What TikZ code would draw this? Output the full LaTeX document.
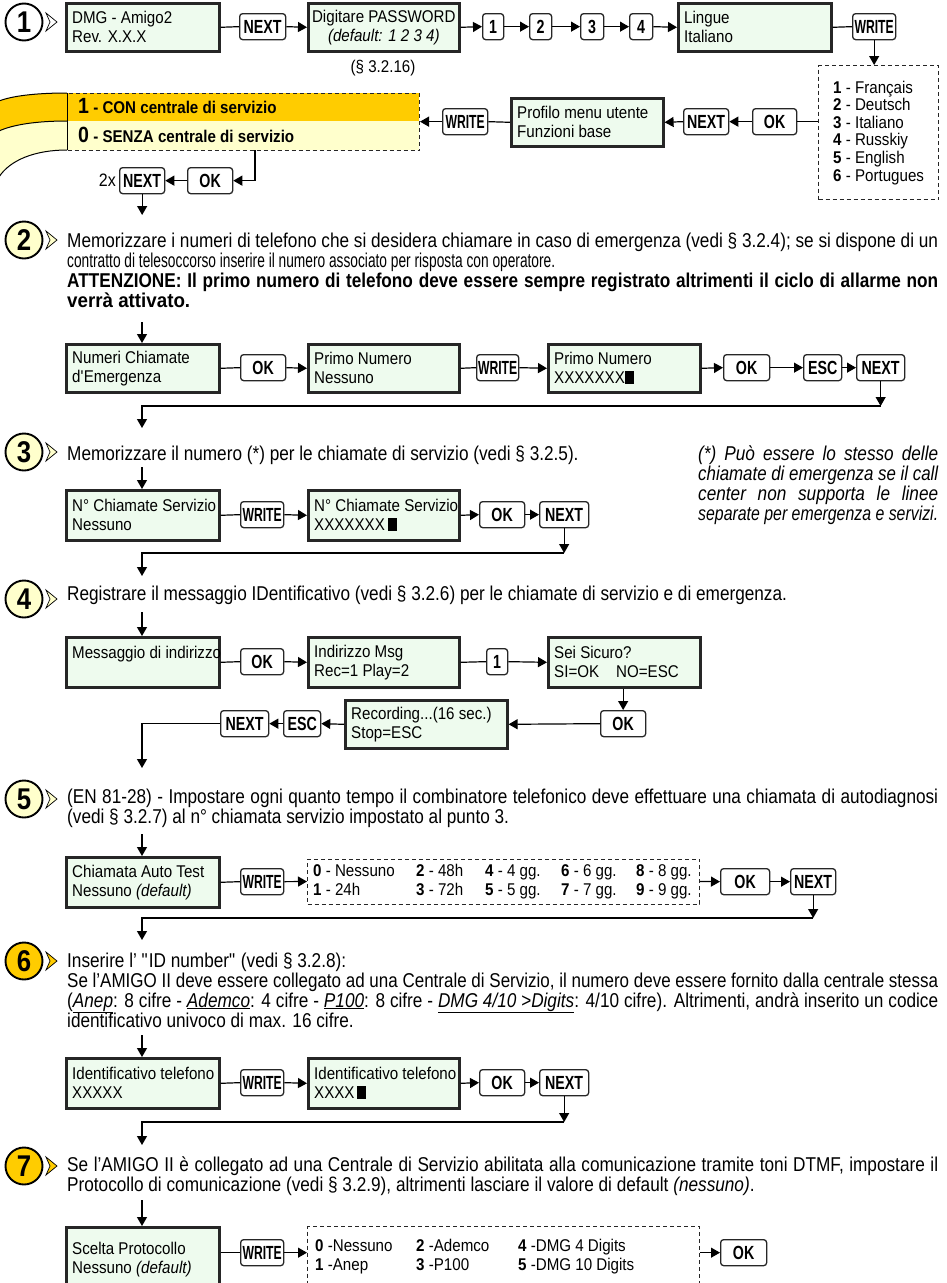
\documentclass[tikz,border=0pt]{standalone}
\usepackage{fontspec}
\usepackage{graphicx}
\setmainfont{Liberation Sans}[FakeStretch=0.86]
\newfontfamily\bxf{Liberation Sans}[FakeStretch=0.89]
\newfontfamily\kyf{Liberation Sans}[FakeStretch=0.75]
\newfontfamily\wrf{Liberation Sans}[FakeStretch=0.64]
\usetikzlibrary{arrows.meta}
\definecolor{gfill}{HTML}{EEFBEE}
\definecolor{orng}{HTML}{FFCC00}
\definecolor{pale}{HTML}{FFFFCC}
\newsavebox\jbox
\newcommand\jl[2]{\sbox\jbox{#2}\ifdim\wd\jbox>#1\relax\resizebox{#1}{\height}{\usebox\jbox}\else\makebox[#1][s]{#2}\fi}
\newcommand\cur{\,\rule[-1pt]{9pt}{13pt}}
\tikzset{
  gbox/.style={draw=black!85, line width=2.6pt, fill=gfill, anchor=north west, inner sep=0pt},
  gtxt/.style={anchor=west, align=left, inner sep=0pt, font=\bxf\fontsize{17}{19}\selectfont},
  key/.style={draw=black!85, line width=1.3pt, rounded corners=3pt, fill=white, anchor=north west, inner sep=0pt, font=\kyf\bfseries\fontsize{19}{19}\selectfont},
  wr/.style={font=\wrf\bfseries\fontsize{19}{19}\selectfont},
  dbox/.style={draw=black!85, line width=1pt, dash pattern=on 4pt off 3pt, anchor=north west, inner sep=0pt},
  ln/.style={line width=1.2pt},
  arr/.style={line width=1.2pt, -{Triangle[length=9pt,width=10pt]}},
  txt/.style={anchor=base west, inner sep=0pt, font=\fontsize{20}{20}\selectfont},
  btxt/.style={anchor=base west, inner sep=0pt, font=\fontsize{20}{20}\selectfont\bfseries},
  itxt/.style={anchor=base west, inner sep=0pt, font=\fontsize{20}{20}\selectfont\itshape},
  badge/.style={circle, draw, line width=1.9pt, minimum size=37pt, inner sep=0pt, font=\bfseries\fontsize{30}{30}\selectfont},
  chev/.style={line width=0.7pt, draw=black},
  lst/.style={anchor=base west, inner sep=0pt, font=\bxf\fontsize{17}{17}\selectfont},
}
\newcommand\gb[6]{\node[gbox, minimum width=#4pt, minimum height=#5pt] (#1) at (#2,#3) {};
  \node[gtxt] (#1t) at ([xshift=7pt]#1.west) {#6};}
\newcommand\kb[7][]{\node[key,#1,minimum width=#5pt,minimum height=#6pt] (#2) at (#3,#4) {#7};}
\newcommand\chv[2]{\filldraw[chev, fill=#2] (46,#1-9) -- (57,#1) -- (46,#1+9) -- (50,#1) -- cycle;}
\begin{document}
\begin{tikzpicture}[x=1pt,y=-1pt]
\useasboundingbox (0,0) rectangle (946,1283);
\clip (0,0) rectangle (946,1283);
\fill[white] (0,0) rectangle (946,1283);

% ---------- step 1 ----------
\node[badge, fill=white] (c1) at (24,22) {1};
\chv{22}{white}
\gb{dmg}{65}{2}{153}{48}{DMG - Amigo2\\Rev. X.X.X}
\kb{nx1}{239}{13}{46}{26}{NEXT}
\node[gbox, minimum width=151pt, minimum height=48pt] (pwd) at (307,2) {};
\node[gtxt, anchor=center, align=center] (pwdt) at (pwd.center) {Digitare PASSWORD\\\textit{(default: 1 2 3 4)}};
\node[inner sep=0pt, font=\bxf\fontsize{17}{17}\selectfont] (sec) at (383,68) {(§ 3.2.16)};
\kb{k1}{482}{13}{21}{26}{1}
\kb{k2}{529}{13}{22}{26}{2}
\kb{k3}{580}{13}{23}{26}{3}
\kb{k4}{629}{13}{23}{26}{4}
\gb{ling}{677}{2}{153}{48}{Lingue\\Italiano}
\kb[wr]{wr1}{852}{13}{43}{26}{WRITE}
\node[dbox, minimum width=120pt, minimum height=134pt] (lang) at (818,65) {};
\foreach \nn/\ll [count=\k] in {1/Français,2/Deutsch,3/Italiano,4/Russkiy,5/English,6/Portugues}
  {\node[lst] (lg\k) at (833,{93+17.6*(\k-1)}) {\textbf{\nn} - \ll};}
\kb{ok1}{752}{108}{44}{26}{OK}
\kb{nx2}{683}{108}{45}{26}{NEXT}
\gb{prof}{510}{97}{152}{48}{Profilo menu utente\\Funzioni base}
\kb[wr]{wr2}{442}{108}{45}{26}{WRITE}

% yellow selector
\fill[orng] (67,93) .. controls (35,93) and (12,96) .. (-1,101) -- (-1,131) .. controls (12,125) and (35,121) .. (67,121) -- cycle;
\fill[pale] (67,121) .. controls (35,121) and (12,125) .. (-1,131) -- (-1,177) .. controls (10,160) and (35,150) .. (67,150) -- cycle;
\fill[orng] (67,93) rectangle (419,121);
\fill[pale] (67,121) rectangle (419,150);
\draw[line width=1pt] (67,93) .. controls (35,93) and (12,96) .. (-1,101);
\draw[line width=1pt] (67,121) .. controls (35,121) and (12,125) .. (-1,131);
\draw[line width=1pt] (67,150) .. controls (35,150) and (10,160) .. (-1,177);
\node[dbox, minimum width=352pt, minimum height=57pt] (yel) at (67,93) {};
\draw[line width=1pt] (67,93) -- (67,150);
\node[anchor=base west, inner sep=0pt, font=\bxf\bfseries\fontsize{17}{17}\selectfont] (ycon) at (78,113) {{\fontsize{22}{22}\selectfont 1} - CON centrale di servizio};
\node[anchor=base west, inner sep=0pt, font=\bxf\bfseries\fontsize{17}{17}\selectfont] (ysen) at (78,142) {{\fontsize{22}{22}\selectfont 0} - SENZA centrale di servizio};
\kb{ok2}{187}{167}{45}{26}{OK}
\kb{nx3}{119}{167}{45}{26}{NEXT}
\node[inner sep=0pt, anchor=east, font=\bxf\fontsize{18}{18}\selectfont] (twox) at (116,180) {2x};

\draw[ln] (dmg.east) -- (nx1.west);
\draw[arr] (nx1.east) -- (pwd.west);
\draw[arr] (pwd.east) -- (k1.west);
\draw[arr] (k1.east) -- (k2.west);
\draw[arr] (k2.east) -- (k3.west);
\draw[arr] (k3.east) -- (k4.west);
\draw[arr] (k4.east) -- (ling.west);
\draw[ln] (ling.east) -- (wr1.west);
\draw[arr] (wr1.south) -- (wr1.south |- lang.north);
\draw[ln] (lang.west |- ok1.east) -- (ok1.east);
\draw[arr] (ok1.west) -- (nx2.east);
\draw[arr] (nx2.west) -- (prof.east);
\draw[ln] (prof.west) -- (wr2.east);
\draw[arr] (wr2.west) -- (wr2.west -| yel.east);
\coordinate (yd) at (255,150);
\draw[arr] (yd) |- (ok2.east);
\draw[arr] (ok2.west) -- (nx3.east);
\coordinate (e1) at (142,215);
\draw[arr] (nx3.south) -- (nx3.south |- e1);

% ---------- step 2 ----------
\node[badge, fill=pale] (c2) at (24,240) {2};
\chv{240}{pale}
\node[txt] (t2a) at (67,247) {\jl{871pt}{Memorizzare i numeri di telefono che si desidera chiamare in caso di emergenza (vedi § 3.2.4); se si dispone di un}};
\node[txt] (t2b) at (67,267) {\resizebox{488pt}{\height}{contratto di telesoccorso inserire il numero associato per risposta con operatore.}};
\node[btxt] (t2c) at (67,287) {\jl{871pt}{ATTENZIONE: Il primo numero di telefono deve essere sempre registrato altrimenti il ciclo di allarme non}};
\node[btxt] (t2d) at (67,307) {\resizebox{123pt}{\height}{verrà attivato.}};
\coordinate (b2) at (142,322);

\gb{nce}{65}{343}{153}{48}{Numeri Chiamate\\d\textquotesingle Emergenza}
\kb{ok3}{240}{354}{45}{26}{OK}
\gb{pn1}{307}{343}{151}{48}{Primo Numero\\Nessuno}
\kb[wr]{wr3}{476}{354}{42}{26}{WRITE}
\gb{pn2}{547}{343}{152}{48}{Primo Numero\\XXXXXXX\rule[-1pt]{9pt}{13pt}}
\kb{ok4}{723}{354}{46}{26}{OK}
\kb{es1}{803}{354}{38}{26}{ESC}
\kb{nx4}{856}{354}{48}{26}{NEXT}
\draw[arr] (b2) -- (b2 |- nce.north);
\draw[ln] (nce.east) -- (ok3.west);
\draw[arr] (ok3.east) -- (pn1.west);
\draw[ln] (pn1.east) -- (wr3.west);
\draw[arr] (wr3.east) -- (pn2.west);
\draw[arr] (pn2.east) -- (ok4.west);
\draw[arr] (ok4.east) -- (es1.west);
\draw[arr] (es1.east) -- (nx4.west);
\coordinate (j2) at (880,406);
\coordinate (e2) at (142,428);
\draw[arr] (nx4.south) -- (nx4.south |- j2);
\draw[arr] (nx4.south |- j2) -- (e2 |- j2) -- (e2);

% ---------- step 3 ----------
\node[badge, fill=pale] (c3) at (24,452) {3};
\chv{452}{pale}
\node[txt] (t3) at (67,460) {Memorizzare il numero (*) per le chiamate di servizio (vedi § 3.2.5).};
\node[itxt] (n3a) at (698,460) {\jl{240pt}{(*) Può essere lo stesso delle}};
\node[itxt] (n3b) at (698,480) {\jl{240pt}{chiamate di emergenza se il call}};
\node[itxt] (n3c) at (698,500) {\jl{240pt}{center non supporta le linee}};
\node[itxt] (n3d) at (698,520) {\jl{240pt}{separate per emergenza e servizi.}};
\coordinate (b3) at (142,467);

\gb{nc1}{65}{489}{153}{50}{N° Chiamate Servizio\\Nessuno}
\kb[wr]{wr4}{240}{501}{43}{26}{WRITE}
\gb{nc2}{307}{489}{151}{50}{N° Chiamate Servizio\\XXXXXXX\cur}
\kb{ok5}{479}{501}{45}{26}{OK}
\kb{nx5}{539}{501}{49}{26}{NEXT}
\draw[arr] (b3) -- (b3 |- nc1.north);
\draw[ln] (nc1.east) -- (wr4.west);
\draw[arr] (wr4.east) -- (nc2.west);
\draw[arr] (nc2.east) -- (ok5.west);
\draw[arr] (ok5.east) -- (nx5.west);
\coordinate (j3) at (563,553);
\coordinate (e3) at (142,576);
\draw[arr] (nx5.south) -- (nx5.south |- j3);
\draw[arr] (nx5.south |- j3) -- (e3 |- j3) -- (e3);

% ---------- step 4 ----------
\node[badge, fill=pale] (c4) at (24,599) {4};
\chv{599}{pale}
\node[txt] (t4) at (67,600) {Registrare il messaggio IDentificativo (vedi § 3.2.6) per le chiamate di servizio e di emergenza.};
\coordinate (b4) at (142,612);

\gb{msg}{65}{636}{153}{50}{Messaggio di indirizzo\\\mbox{}}
\kb{ok6}{240}{648}{43}{26}{OK}
\gb{ind}{307}{636}{151}{50}{Indirizzo Msg\\Rec=1 Play=2}
\kb{k1b}{486}{648}{21}{26}{1}
\gb{sei}{547}{636}{152}{50}{Sei Sicuro?\\SI=OK\quad NO=ESC}
\kb{ok7}{600}{710}{45}{26}{OK}
\gb{rec}{344}{699}{162}{48}{Recording...(16 sec.)\\Stop=ESC}
\kb{es2}{283}{710}{37}{26}{ESC}
\kb{nx6}{220}{710}{48}{26}{NEXT}
\draw[arr] (b4) -- (b4 |- msg.north);
\draw[ln] (msg.east) -- (ok6.west);
\draw[arr] (ok6.east) -- (ind.west);
\draw[ln] (ind.east) -- (k1b.west);
\draw[arr] (k1b.east) -- (sei.west);
\draw[arr] (ok7.north |- sei.south) -- (ok7.north);
\draw[arr] (ok7.west) -- (rec.east);
\draw[arr] (rec.west) -- (es2.east);
\draw[arr] (es2.west) -- (nx6.east);
\coordinate (e4) at (142,768);
\draw[arr] (nx6.west) -| (e4);

% ---------- step 5 ----------
\node[badge, fill=pale] (c5) at (24,799) {5};
\chv{799}{pale}
\node[txt] (t5a) at (67,803) {\jl{871pt}{(EN 81-28) - Impostare ogni quanto tempo il combinatore telefonico deve effettuare una chiamata di autodiagnosi}};
\node[txt] (t5b) at (67,823) {(vedi § 3.2.7) al n° chiamata servizio impostato al punto 3.};
\coordinate (b5) at (142,834);

\gb{cat}{65}{856}{153}{50}{Chiamata Auto Test\\Nessuno \textit{(default)}}
\kb[wr]{wr5}{240}{868}{43}{26}{WRITE}
\node[dbox, minimum width=392pt, minimum height=45pt] (op5) at (307,858.5) {};
\node[lst] (o50) at (313,876) {\textbf{0} - Nessuno};
\node[lst] (o52) at (416,876) {\textbf{2} - 48h};
\node[lst] (o54) at (485,876) {\textbf{4} - 4 gg.};
\node[lst] (o56) at (561,876) {\textbf{6} - 6 gg.};
\node[lst] (o58) at (636,876) {\textbf{8} - 8 gg.};
\node[lst] (o51) at (313,895) {\textbf{1} - 24h};
\node[lst] (o53) at (416,895) {\textbf{3} - 72h};
\node[lst] (o55) at (485,895) {\textbf{5} - 5 gg.};
\node[lst] (o57) at (561,895) {\textbf{7} - 7 gg.};
\node[lst] (o59) at (636,895) {\textbf{9} - 9 gg.};
\kb{ok8}{720}{868}{49}{26}{OK}
\kb{nx8}{790}{868}{45}{26}{NEXT}
\draw[arr] (b5) -- (b5 |- cat.north);
\draw[ln] (cat.east) -- (wr5.west);
\draw[arr] (wr5.east) -- (op5.west);
\draw[arr] (op5.east) -- (ok8.west);
\draw[arr] (ok8.east) -- (nx8.west);
\coordinate (j5) at (812,918);
\coordinate (e5) at (142,940);
\draw[arr] (nx8.south) -- (nx8.south |- j5);
\draw[arr] (nx8.south |- j5) -- (e5 |- j5) -- (e5);

% ---------- step 6 ----------
\node[badge, fill=orng] (c6) at (24,961) {6};
\chv{961}{orng}
\node[txt] (t6a) at (67,967) {Inserire l' \textquotedbl ID number\textquotedbl{} (vedi § 3.2.8):};
\node[txt] (t6b) at (67,987) {\jl{871pt}{Se l'AMIGO II deve essere collegato ad una Centrale di Servizio, il numero deve essere fornito dalla centrale stessa}};
\node[txt] (t6c) at (67,1007) {\jl{871pt}{(\underline{\textit{Anep}}: 8 cifre - \underline{\textit{Ademco}}: 4 cifre - \underline{\textit{P100}}: 8 cifre - \underline{\textit{DMG 4/10 >Digits}}: 4/10 cifre). Altrimenti, andrà inserito un codice}};
\node[txt] (t6d) at (67,1027) {identificativo univoco di max. 16 cifre.};
\coordinate (b6) at (142,1035);

\gb{id1}{65}{1057}{153}{50}{Identificativo telefono\\XXXXX}
\kb[wr]{wr6}{240}{1069}{43}{26}{WRITE}
\gb{id2}{307}{1057}{151}{50}{Identificativo telefono\\XXXX\cur}
\kb{ok9}{479}{1069}{45}{26}{OK}
\kb{nx9}{539}{1069}{49}{26}{NEXT}
\draw[arr] (b6) -- (b6 |- id1.north);
\draw[ln] (id1.east) -- (wr6.west);
\draw[arr] (wr6.east) -- (id2.west);
\draw[arr] (id2.east) -- (ok9.west);
\draw[arr] (ok9.east) -- (nx9.west);
\coordinate (j6) at (563,1122);
\coordinate (e6) at (142,1145);
\draw[arr] (nx9.south) -- (nx9.south |- j6);
\draw[arr] (nx9.south |- j6) -- (e6 |- j6) -- (e6);

% ---------- step 7 ----------
\node[badge, fill=orng] (c7) at (24,1166) {7};
\chv{1166}{orng}
\node[txt] (t7a) at (67,1171) {\jl{871pt}{Se l'AMIGO II è collegato ad una Centrale di Servizio abilitata alla comunicazione tramite toni DTMF, impostare il}};
\node[txt] (t7b) at (67,1191) {Protocollo di comunicazione (vedi § 3.2.9), altrimenti lasciare il valore di default \textit{(nessuno)}.};
\coordinate (b7) at (142,1200);

\gb{sce}{65}{1226}{153}{64}{Scelta Protocollo\\Nessuno \textit{(default)}}
\kb[wr]{wr7}{240}{1239}{43}{26}{WRITE}
\node[dbox, minimum width=392pt, minimum height=65pt] (op7) at (307,1226) {};
\node[lst] (p70) at (315,1251) {\textbf{0} -Nessuno};
\node[lst] (p71) at (315,1270) {\textbf{1} -Anep};
\node[lst] (p72) at (416,1251) {\textbf{2} -Ademco};
\node[lst] (p73) at (416,1270) {\textbf{3} -P100};
\node[lst] (p74) at (518,1251) {\textbf{4} -DMG 4 Digits};
\node[lst] (p75) at (518,1270) {\textbf{5} -DMG 10 Digits};
\kb{ok10}{720}{1239}{46}{26}{OK}
\draw[arr] (b7) -- (b7 |- sce.north);
\draw[ln] (wr7.west -| sce.east) -- (wr7.west);
\draw[arr] (wr7.east) -- (wr7.east -| op7.west);
\draw[arr] (op7.east |- ok10.west) -- (ok10.west);
\end{tikzpicture}
\end{document}
